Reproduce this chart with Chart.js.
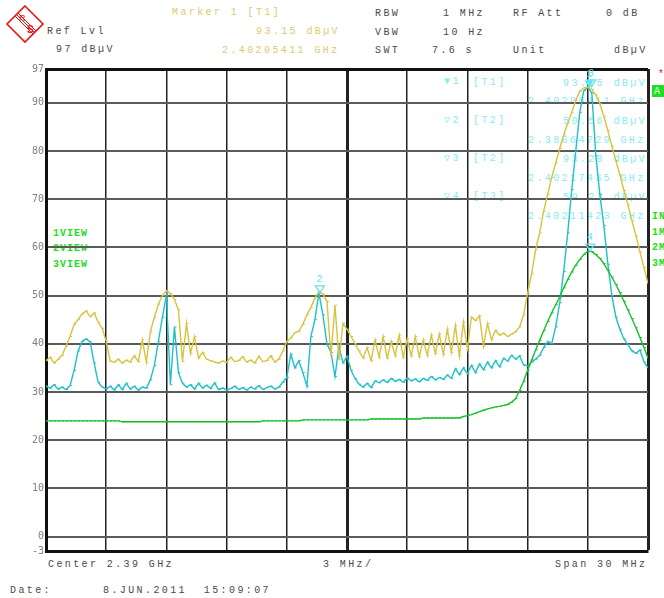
<!DOCTYPE html>
<html>
<head>
<meta charset="utf-8">
<script src="https://cdn.jsdelivr.net/npm/chart.js@4/dist/chart.umd.min.js"></script>
<style>
  html, body { margin: 0; padding: 0; background: #fff; }
  #wrap { position: relative; width: 664px; height: 598px; overflow: hidden; }
  #wrap canvas { position: absolute; left: 0; top: 0; z-index: 2; }
  #logo { position: absolute; left: 0; top: 0; }
  .t { position: absolute; font: 10px 'Liberation Mono', 'DejaVu Sans Mono', monospace; letter-spacing: 2.4px;
       line-height: 10px; white-space: pre; color: #4a4a4a; }
  .y { color: #dccb6c; }
  .c { color: #86ecf0; }
  .g { color: #22e022; font-weight: bold; letter-spacing: 1px; }
</style>
</head>
<body>
<div id="wrap">
  <svg id="logo" width="50" height="48" viewBox="0 0 50 48">
    <polygon points="25,6 43,24 25,42 7,24" fill="none" stroke="#e8151b" stroke-width="1.6"/>
    <line x1="16" y1="14" x2="35" y2="33" stroke="#e8151b" stroke-width="1"/>
    <line x1="15" y1="16" x2="33" y2="34" stroke="#e8151b" stroke-width="1"/>
    <line x1="18" y1="13" x2="36" y2="31" stroke="#e8151b" stroke-width="1"/>
    <text x="19" y="21" font-family="Liberation Sans" font-size="9" fill="#e8151b">R</text>
    <text x="27" y="33" font-family="Liberation Sans" font-size="10" font-weight="bold" fill="#e8151b">S</text>
  </svg>

  <div class="t" style="left:47px;top:27px">Ref Lvl</div>
  <div class="t" style="left:56px;top:45px">97 dBµV</div>
  <div class="t y" style="left:172px;top:8px">Marker 1 [T1]</div>
  <div class="t y" style="left:256px;top:27px">93.15 dBµV</div>
  <div class="t y" style="left:222px;top:46px">2.40205411 GHz</div>

  <div class="t" style="left:375px;top:9px">RBW</div>
  <div class="t" style="left:443px;top:9px">1 MHz</div>
  <div class="t" style="left:513px;top:9px">RF Att</div>
  <div class="t" style="left:606px;top:9px">0 dB</div>
  <div class="t" style="left:375px;top:28px">VBW</div>
  <div class="t" style="left:443px;top:28px">10 Hz</div>
  <div class="t" style="left:375px;top:46px">SWT</div>
  <div class="t" style="left:432px;top:46px">7.6 s</div>
  <div class="t" style="left:513px;top:46px">Unit</div>
  <div class="t" style="left:614px;top:46px">dBµV</div>

  <div class="t c" style="left:444px;top:77px">▼1</div>
  <div class="t c" style="left:473px;top:78px">[T1]</div>
  <div class="t c" style="left:563px;top:79px">93.15 dBµV</div>
  <div class="t c" style="left:528px;top:97px">2.40205411 GHz</div>
  <div class="t c" style="left:444px;top:116px">▽2</div>
  <div class="t c" style="left:473px;top:116px">[T2]</div>
  <div class="t c" style="left:563px;top:117px">50.56 dBµV</div>
  <div class="t c" style="left:528px;top:136px">2.38864729 GHz</div>
  <div class="t c" style="left:444px;top:154px">▽3</div>
  <div class="t c" style="left:473px;top:154px">[T2]</div>
  <div class="t c" style="left:563px;top:155px">93.28 dBµV</div>
  <div class="t c" style="left:528px;top:174px">2.40217435 GHz</div>
  <div class="t c" style="left:444px;top:192px">▽4</div>
  <div class="t c" style="left:473px;top:192px">[T3]</div>
  <div class="t c" style="left:563px;top:193px">59.23 dBµV</div>
  <div class="t c" style="left:528px;top:212px">2.40211423 GHz</div>

  <div class="t g" style="left:53px;top:229px">1VIEW</div>
  <div class="t g" style="left:53px;top:244px">2VIEW</div>
  <div class="t g" style="left:53px;top:260px">3VIEW</div>

  <div class="t" style="left:658px;top:70px;color:#e8151b;letter-spacing:0">*</div>
  <div style="position:absolute;left:652px;top:85px;width:12px;height:12px;background:#1fe01f"></div>
  <div class="t" style="left:654px;top:87px;color:#eaffea;letter-spacing:0">A</div>
  <div class="t g" style="left:652px;top:212px">IN</div>
  <div class="t g" style="left:652px;top:228px">1M</div>
  <div class="t g" style="left:652px;top:243px">2M</div>
  <div class="t g" style="left:652px;top:259px">3M</div>

  <div class="t" style="left:48px;top:560px">Center 2.39 GHz</div>
  <div class="t" style="left:323px;top:560px">3 MHz/</div>
  <div class="t" style="left:555px;top:560px">Span 30 MHz</div>
  <div class="t" style="left:10px;top:586px">Date:</div>
  <div class="t" style="left:103px;top:586px">8.JUN.2011  15:09:07</div>

  <canvas id="spectrum" width="664" height="598"></canvas>
</div>

<script>
// sweep: 151 points from 2375 to 2405 MHz
const startMHz = 2375;
const stopMHz = 2405;
const sweepPoints = 151;
const xGridMHz = [2375, 2378, 2381, 2384, 2387, 2390, 2393, 2396, 2399, 2402, 2405];
const yTicks = [-3, 0, 10, 20, 30, 40, 50, 60, 70, 80, 90, 97];

// trace 1 (max hold, yellow), dBuV
const trace1 = [
  36.5, 37.2, 36.0, 36.8, 37.6, 39.5, 41.5, 44.0, 45.0, 46.2,
  46.8, 45.6, 46.4, 44.5, 43.2, 40.5, 36.4, 36.2, 36.8, 36.0,
  36.6, 36.2, 37.5, 36.3, 40.8, 36.2, 42.5, 45.5, 48.2, 50.0,
  51.0, 50.4, 49.2, 47.0, 36.3, 44.2, 38.0, 41.5, 37.0, 38.2,
  36.8, 36.5, 36.2, 36.0, 36.4, 36.1, 37.2, 36.3, 36.5, 37.3,
  36.2, 36.6, 36.0, 37.4, 36.3, 36.5, 37.5, 36.2, 36.8, 38.5,
  40.5, 41.2, 42.3, 42.6, 44.0, 46.0, 47.5, 49.5, 50.8, 50.3,
  48.8, 37.5, 48.0, 36.7, 44.2, 43.0, 41.5, 40.0, 38.5, 37.0,
  39.2, 36.5, 40.8, 37.2, 41.5, 37.0, 40.5, 37.5, 41.8, 37.2,
  41.0, 37.5, 41.5, 37.3, 40.8, 37.6, 41.8, 38.0, 42.0, 37.8,
  43.0, 38.2, 43.8, 37.5, 44.5, 39.0, 45.5, 44.8, 45.8, 39.5,
  44.2, 40.8, 42.8, 41.8, 42.2, 41.5, 42.0, 42.5, 43.5, 46.0,
  50.5, 54.5, 59.5, 63.0, 67.5, 71.0, 74.5, 77.5, 80.5, 83.3,
  85.8, 88.0, 90.5, 92.4, 93.1, 93.2, 92.8, 91.6, 89.8, 87.2,
  84.2, 81.0, 78.0, 75.0, 71.8, 68.8, 65.5, 62.4, 59.0, 55.8,
  52.5
];

// trace 2 (cyan)
const trace2 = [
  31.2, 30.8, 31.5, 30.6, 31.0, 30.5, 31.3, 34.5, 38.5, 40.5,
  41.0, 40.4, 36.0, 32.0, 31.0, 30.6, 31.2, 30.4, 31.5, 30.5,
  31.8, 30.6, 31.2, 30.4, 31.0, 30.8, 32.5, 35.5, 40.5, 45.5,
  50.0, 31.5, 43.5, 34.0, 31.8, 31.0, 31.5, 30.6, 31.8, 30.8,
  31.4, 30.7, 31.9, 30.5, 30.8, 30.4, 30.7, 31.2, 30.5, 30.9,
  30.4, 31.0, 30.6, 31.3, 30.5, 30.9, 31.2, 30.6, 31.0, 32.0,
  33.0, 37.8, 35.0, 36.5, 34.0, 31.2, 41.5, 45.0, 50.5, 46.0,
  40.0, 38.2, 33.2, 39.4, 36.0, 37.4, 34.5, 32.8, 31.6, 31.0,
  31.8, 30.9, 32.3, 31.9, 32.5, 32.0, 32.8, 32.2, 32.6, 32.0,
  32.9, 32.3, 32.7, 32.1, 32.8, 32.4, 33.2, 32.5, 33.0, 32.6,
  33.5, 32.8, 34.8, 33.6, 35.0, 33.8, 35.5, 34.0, 35.8, 34.6,
  36.2, 35.0, 36.5, 35.2, 37.0, 36.4, 37.6, 36.8, 37.5, 35.6,
  35.4, 36.2, 36.8, 37.6, 39.2, 40.5, 40.0, 43.5, 48.5, 55.0,
  63.0, 72.0, 80.0, 88.0, 92.5, 93.2, 92.0, 79.0, 71.0, 64.5,
  56.5, 50.0, 45.5, 43.0, 41.0, 39.8, 38.5, 38.0, 38.7, 36.2,
  35.0
];

// trace 3 (green)
const trace3 = [
  24.0, 24.0, 24.0, 24.0, 24.0, 24.0, 24.0, 24.0, 24.0, 24.0,
  24.0, 24.0, 24.0, 24.0, 24.0, 24.0, 24.0, 24.0, 24.0, 23.8,
  23.8, 23.8, 23.8, 23.8, 23.8, 23.8, 23.8, 23.8, 23.8, 23.8,
  23.8, 23.8, 23.8, 23.8, 23.8, 23.8, 23.8, 23.8, 23.8, 23.8,
  23.8, 23.8, 23.8, 23.8, 23.8, 23.8, 23.8, 23.8, 23.8, 23.8,
  23.8, 23.8, 23.8, 23.8, 24.0, 24.0, 24.0, 24.0, 24.0, 24.0,
  24.0, 24.0, 24.0, 24.0, 24.2, 24.2, 24.2, 24.2, 24.2, 24.2,
  24.2, 24.2, 24.2, 24.2, 24.2, 24.2, 24.2, 24.2, 24.2, 24.2,
  24.2, 24.4, 24.4, 24.4, 24.4, 24.4, 24.4, 24.4, 24.4, 24.4,
  24.4, 24.4, 24.4, 24.4, 24.6, 24.6, 24.6, 24.6, 24.6, 24.6,
  24.6, 24.6, 24.6, 24.6, 24.9, 25.1, 25.3, 25.6, 25.9, 26.2,
  26.5, 26.7, 26.9, 27.0, 27.2, 27.4, 27.9, 28.6, 30.3, 32.2,
  34.5, 36.6, 38.7, 40.7, 42.7, 44.6, 46.4, 48.1, 49.7, 51.6,
  53.3, 54.9, 56.3, 57.5, 58.5, 59.2, 59.1, 58.5, 57.7, 56.6,
  55.2, 53.8, 52.3, 50.6, 48.8, 47.0, 45.2, 43.3, 41.3, 39.2,
  37.0
];

// markers
const markerNames = ['1', '2', '3', '4'];
const markerFreqMHz = [2402.05411, 2388.64729, 2402.17435, 2402.11423];
const markerLevel = [93.15, 50.56, 93.28, 59.23];

const freqMHz = [];
for (let i = 0; i < sweepPoints; i++) {
    freqMHz.push(startMHz + i * (stopMHz - startMHz) / (sweepPoints - 1));
}
function toPoints(values) {
    return values.map((v, i) => ({ x: freqMHz[i], y: v }));
}

function traceSet(label, values, color) {
    return {
        label: label,
        data: toPoints(values),
        borderColor: color,
        borderWidth: 1.4,
        pointStyle: 'dash',
        pointRadius: 2,
        pointBorderWidth: 1,
        pointBorderColor: color,
        tension: 0
    };
}

const markerPlugin = {
    id: 'markers',
    afterDatasetsDraw(chart) {
        const { ctx } = chart;
        const xs = chart.scales.x, ys = chart.scales.y;
        ctx.save();
        ctx.strokeStyle = '#5ee4ec';
        ctx.fillStyle = '#5ee4ec';
        ctx.lineWidth = 1.2;
        ctx.font = '10px "Liberation Mono", monospace';
        ctx.textAlign = 'center';
        markerFreqMHz.forEach((f, i) => {
            const px = xs.getPixelForValue(f);
            const py = ys.getPixelForValue(markerLevel[i]);
            ctx.beginPath();
            ctx.moveTo(px, py);
            ctx.lineTo(px - 4.5, py - 7);
            ctx.lineTo(px + 4.5, py - 7);
            ctx.closePath();
            if (i === 0) ctx.fill(); else ctx.stroke();
            ctx.fillText(markerNames[i], px, py - 11);
        });
        ctx.restore();
    }
};

new Chart(document.getElementById('spectrum'), {
    type: 'line',
    data: {
        datasets: [
            traceSet('Trace 1', trace1, '#d8c33e'),
            traceSet('Trace 3', trace3, '#16c22a'),
            traceSet('Trace 2', trace2, '#1fc0c8')
        ]
    },
    options: {
        responsive: false,
        animation: false,
        devicePixelRatio: 1,
        events: [],
        layout: { padding: { left: 0, top: 69, right: 16, bottom: 47 } },
        plugins: { legend: { display: false }, tooltip: { enabled: false } },
        scales: {
            x: {
                type: 'linear',
                min: startMHz,
                max: stopMHz,
                afterBuildTicks: (scale) => { scale.ticks = xGridMHz.map(v => ({ value: v })); },
                afterFit: (scale) => { scale.height = 0; },
                ticks: { display: false },
                grid: {
                    drawTicks: false,
                    color: '#222',
                    lineWidth: (c) => {
                        const v = c.tick ? c.tick.value : null;
                        return (v === 2390 || v === stopMHz) ? 3 : 1.5;
                    }
                },
                border: { display: true, color: '#111', width: 3 }
            },
            y: {
                min: -3,
                max: 97,
                afterBuildTicks: (scale) => { scale.ticks = yTicks.map(v => ({ value: v })); },
                afterFit: (scale) => { scale.width = 46; },
                ticks: {
                    padding: 2,
                    color: '#808080',
                    font: { family: 'DejaVu Sans Mono', size: 10 },
                    callback: (v) => String(v)
                },
                grid: {
                    drawTicks: false,
                    color: (c) => (c.tick && (c.tick.value === 97 || c.tick.value === -3)) ? '#111' : '#5a5a5a',
                    lineWidth: (c) => (c.tick && (c.tick.value === 97 || c.tick.value === -3)) ? 3 : 2
                },
                border: { display: true, color: '#111', width: 3 }
            }
        }
    },
    plugins: [markerPlugin]
});
</script>
</body>
</html>
